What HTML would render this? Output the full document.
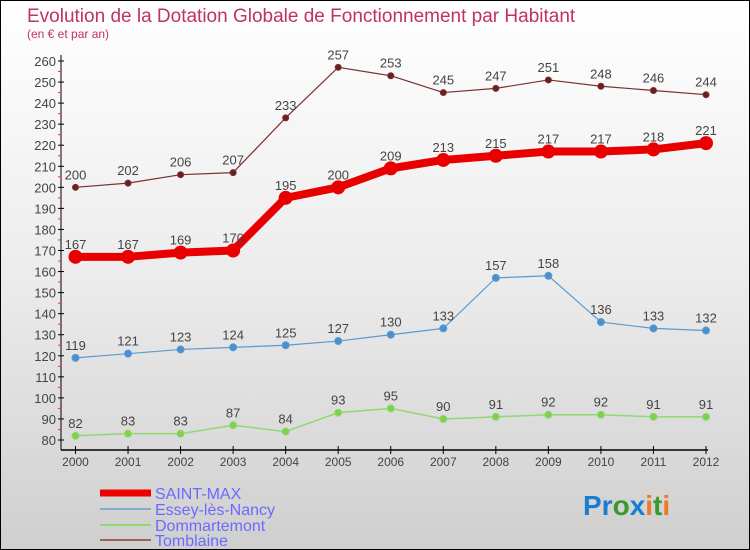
<!DOCTYPE html>
<html><head><meta charset="utf-8"><style>
body{margin:0}
#c{width:750px;height:550px;position:relative;overflow:hidden;box-sizing:border-box;border:1px solid #000;background:linear-gradient(#fff 0%,#ececec 50%,#cfcfcf 100%);font-family:"Liberation Sans",sans-serif}
</style></head><body>
<div id="c">
<svg id="s" width="750" height="550" style="position:absolute;left:-1px;top:-1px" font-family="Liberation Sans, sans-serif">
<text x="27" y="22" font-size="19" fill="#c0306a">Evolution de la Dotation Globale de Fonctionnement par Habitant</text>
<text x="27" y="38" font-size="12" fill="#c0306a">(en € et par an)</text>
<g id="axes"></g><g id="series"></g>
<g>
<line x1="100" y1="493" x2="151" y2="493" stroke="#e00" stroke-width="7"/>
<text x="155" y="499" font-size="16" fill="#6a6aff">SAINT-MAX</text>
<line x1="100" y1="509" x2="151" y2="509" stroke="#80aed0" stroke-width="2"/>
<text x="155" y="515" font-size="16" fill="#6a6aff">Essey-lès-Nancy</text>
<line x1="100" y1="525" x2="151" y2="525" stroke="#90d870" stroke-width="2"/>
<text x="155" y="531" font-size="16" fill="#6a6aff">Dommartemont</text>
<line x1="100" y1="540" x2="151" y2="540" stroke="#a06060" stroke-width="2"/>
<text x="155" y="546" font-size="16" fill="#6a6aff">Tomblaine</text>
</g>
<text x="583" y="515" font-size="28" font-weight="bold"><tspan fill="#1a7ed0">Pr</tspan><tspan fill="#3a9a30">o</tspan><tspan fill="#1a7ed0">x</tspan><tspan fill="#f07820">i</tspan><tspan fill="#3a9a30">t</tspan><tspan fill="#f07820">i</tspan></text>
</svg>
</div>
<script>
const years=[2000,2001,2002,2003,2004,2005,2006,2007,2008,2009,2010,2011,2012];
const saintMax=[167,167,169,170,195,200,209,213,215,217,217,218,221];
const essey=[119,121,123,124,125,127,130,133,157,158,136,133,132];
const dommartemont=[82,83,83,87,84,93,95,90,91,92,92,91,91];
const tomblaine=[200,202,206,207,233,257,253,245,247,251,248,246,244];
const yTicks=[80,90,100,110,120,130,140,150,160,170,180,190,200,210,220,230,240,250,260];
const NS="http://www.w3.org/2000/svg";
const X=i=>75.5+i*(706-75.5)/(years.length-1);
const Y=v=>61+(260-v)*(379/180);
function mk(t,a,p,txt){const e=document.createElementNS(NS,t);for(const k in a)e.setAttribute(k,a[k]);if(txt!==undefined)e.textContent=txt;p.appendChild(e);return e;}
const ax=document.getElementById('axes');
const yAxis=mk('line',{x1:61,y1:55,x2:61,y2:450,stroke:'#000','stroke-width':1},ax);


const xAxis=mk('line',{x1:61,y1:450,x2:708,y2:450,stroke:'#000','stroke-width':1.5},ax);


yTicks.forEach(v=>{const y=Y(v);
mk('line',{x1:58,y1:y,x2:64,y2:y,stroke:'#000'},ax);
if(v<260)mk('line',{x1:58,y1:Y(v+5),x2:61,y2:Y(v+5),stroke:'#e33'},ax);
const t=mk('text',{x:56,y:y+5,'font-size':13,fill:'#444','text-anchor':'end'},ax,v);

});
years.forEach((yr,i)=>{mk('line',{x1:X(i),y1:446,x2:X(i),y2:454,stroke:'#000'},ax);
const t=mk('text',{x:X(i),y:466,'font-size':12,fill:'#444','text-anchor':'middle'},ax,yr);

});
const sg=document.getElementById('series');
function series(d,name,col,fill,w,r,fs){
const g=mk('g',{},sg);


mk('polyline',{points:d.map((v,i)=>X(i)+','+Y(v)).join(' '),fill:'none',stroke:col,'stroke-width':w,'stroke-linejoin':'round'},g);
d.forEach((v,i)=>{const c=mk('circle',{cx:X(i),cy:Y(v),r:r,fill:fill,stroke:col,'stroke-width':1},g);


const t=mk('text',{x:X(i),y:Y(v)-8,'font-size':fs,fill:'#444','text-anchor':'middle'},g,v);

});}
series(tomblaine,'tomblaine','#7a3030','#6a2020',1.2,3,13);
series(dommartemont,'dommartemont','#90d870','#80d050',1.5,3.5,13);
series(essey,'essey','#5a9ad0','#4a90d0',1.2,3.5,13);
series(saintMax,'saint-max','#e80000','#e80000',8,6.5,13);
</script>
</body></html>
